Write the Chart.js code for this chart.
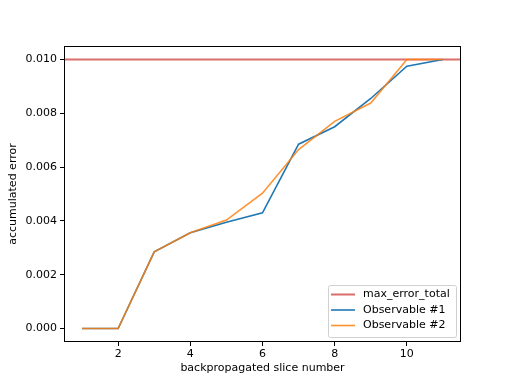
<!DOCTYPE html>
<html><head><meta charset="utf-8">
<script src="https://cdn.jsdelivr.net/npm/chart.js@4"></script>
<style>html,body{margin:0;padding:0;background:#fff}</style>
</head><body>
<canvas id="c" width="512" height="384"></canvas>
<script>
const slices = [1, 2, 3, 4, 5, 6, 7, 8, 9, 10, 11];
const observable1 = [0, 0, 0.00285, 0.00356, 0.00395, 0.0043, 0.00685, 0.0075, 0.00855, 0.00975, 0.0100];
const observable2 = [0, 0, 0.00285, 0.00356, 0.00403, 0.00503, 0.00665, 0.0077, 0.00838, 0.0100, 0.0100];
const maxErrorTotal = 0.01;
const xTicks = [2, 4, 6, 8, 10];
const yTicks = [0, 0.002, 0.004, 0.006, 0.008, 0.010];
const xRange = [0.5, 11.5];
const yRange = [-0.0005, 0.0105];
const seriesLabels = ['max_error_total', 'Observable #1', 'Observable #2'];
const FONT = 'DejaVu Sans';

const toPts = (ys) => slices.map((x, i) => ({x, y: ys[i]}));

const frame = {
  id: 'frame',
  afterDatasetsDraw(chart) {
    const {ctx, chartArea: a} = chart;
    ctx.save();
    ctx.strokeStyle = '#000';
    ctx.lineWidth = 1;
    ctx.strokeRect(Math.round(a.left) + 0.5, Math.round(a.top) + 0.5, Math.round(a.right - a.left) - 1, Math.round(a.bottom - a.top) - 1);
    ctx.restore();
  }
};

const legendBox = {
  id: 'legendBox',
  afterDraw(chart) {
    const {ctx, chartArea: a} = chart;
    const w = 128, h = 52;
    const left = a.right - 5 - w, top = a.bottom - 5 - h;
    ctx.save();
    ctx.fillStyle = 'rgba(255,255,255,0.8)';
    ctx.strokeStyle = '#d0d0d0';
    ctx.lineWidth = 1;
    ctx.beginPath();
    ctx.roundRect(left + 0.5, top + 0.5, w, h, 2);
    ctx.fill();
    ctx.stroke();
    ctx.font = '11px "' + FONT + '"';
    ctx.textBaseline = 'middle';
    ctx.fillStyle = '#000';
    chart.data.datasets.forEach((ds, i) => {
      const y = top + 9.5 + i * 15.5;
      ctx.strokeStyle = ds.borderColor;
      ctx.lineWidth = ds.borderWidth;
      ctx.beginPath();
      ctx.moveTo(left + 3, y);
      ctx.lineTo(left + 27, y);
      ctx.stroke();
      ctx.fillText(ds.label, left + 35, y);
    });
    ctx.restore();
  }
};

new Chart(document.getElementById('c'), {
  type: 'line',
  data: {
    datasets: [
      {label: seriesLabels[0], data: [{x: xRange[0], y: maxErrorTotal}, {x: xRange[1], y: maxErrorTotal}],
       borderColor: 'rgb(218,110,108)', borderWidth: 2, pointRadius: 0, order: 3},
      {label: seriesLabels[1], data: toPts(observable1), borderColor: '#1f77b4', borderWidth: 1.6, pointRadius: 0, order: 2},
      {label: seriesLabels[2], data: toPts(observable2), borderColor: 'rgba(255,127,14,0.85)', borderWidth: 1.6, pointRadius: 0, order: 1}
    ]
  },
  options: {
    responsive: false,
    animation: false,
    devicePixelRatio: 1,
    layout: {padding: {top: 46, right: 51, left: 0, bottom: 0}},
    plugins: {legend: {display: false}, tooltip: {enabled: false}},
    scales: {
      x: {
        type: 'linear', min: xRange[0], max: xRange[1],
        afterFit(s) { s.height = 42; },
        afterBuildTicks(s) { s.ticks = xTicks.map(v => ({value: v})); },
        grid: {drawOnChartArea: false, drawTicks: true, tickLength: 4, color: '#000', tickColor: '#000'},
        border: {display: false},
        ticks: {padding: 2, color: '#000', font: {family: FONT, size: 11}, maxRotation: 0, callback: v => String(v)},
        title: {display: true, text: 'backpropagated slice number', color: '#000', font: {family: FONT, size: 11}, padding: {top: 0, bottom: 9}}
      },
      y: {
        type: 'linear', min: yRange[0], max: yRange[1],
        afterFit(s) { s.width = 64; },
        afterBuildTicks(s) { s.ticks = yTicks.map(v => ({value: v})); },
        grid: {drawOnChartArea: false, drawTicks: true, tickLength: 4, color: '#000', tickColor: '#000'},
        border: {display: false},
        ticks: {padding: 3, color: '#000', font: {family: FONT, size: 11}, callback: v => Number(v).toFixed(3)},
        title: {display: true, text: 'accumulated error', color: '#000', font: {family: FONT, size: 11}, padding: {top: 7, bottom: 0}}
      }
    }
  },
  plugins: [frame, legendBox]
});
</script>
</body></html>
